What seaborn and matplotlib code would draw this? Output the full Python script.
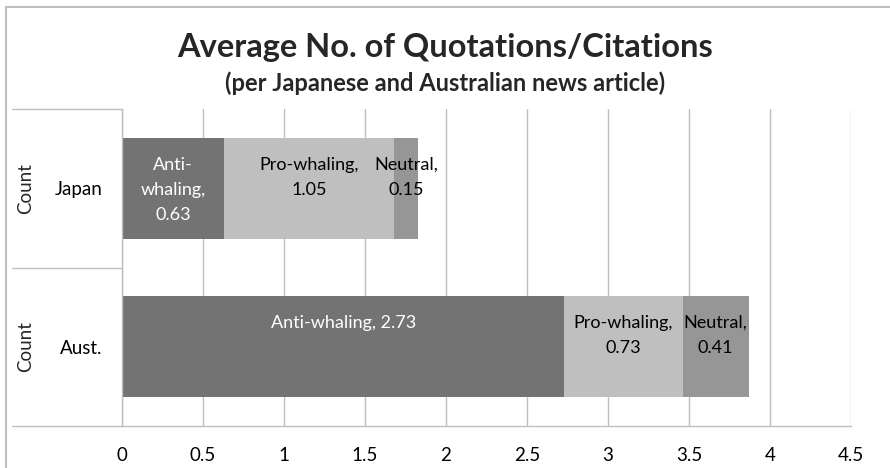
import pandas as pd
import seaborn as sns
import matplotlib.pyplot as plt
from matplotlib.lines import Line2D

# data
countries = ["Japan", "Aust."]
anti_whaling = [0.63, 2.73]
pro_whaling = [1.05, 0.73]
neutral = [0.15, 0.41]
segment_names = ["Anti-whaling", "Pro-whaling", "Neutral"]
segment_colors = ["#737373", "#BFBFBF", "#969696"]
label_colors = ["white", "black", "black"]

sns.set_theme(style="white")
plt.rcParams['font.family'] = ['Lato', 'DejaVu Sans']

df = pd.DataFrame({"country": countries, "Anti-whaling": anti_whaling,
                   "Pro-whaling": pro_whaling, "Neutral": neutral})
# cumulative totals so the bars can be layered into a stack
cum = df[segment_names].cumsum(axis=1)

fig = plt.figure(figsize=(8.9, 4.68), dpi=100)
ax = fig.add_axes([122 / 890, 42 / 468, 729 / 890, 317 / 468])

bar_w = 0.64
for name, col in reversed(list(zip(segment_names, segment_colors))):
    sns.barplot(x=cum[name], y=df["country"], order=countries, orient="y",
                color=col, width=bar_w, saturation=1, edgecolor="none", ax=ax)

# segment labels
px_per_unit = 317 / 2
for i, c in enumerate(countries):
    for j, name in enumerate(segment_names):
        val = df.loc[i, name]
        left = cum.loc[i, name] - val
        mid = left + val / 2
        if c == "Japan" and name == "Anti-whaling":
            txt = f"Anti-\nwhaling,\n{val:.2f}"
        elif c == "Aust." and name == "Anti-whaling":
            txt = f"{name}, {val:.2f}"
        else:
            txt = f"{name},\n{val:.2f}"
        ytop = i - bar_w / 2 + 19 / px_per_unit
        ax.text(mid, ytop, txt, ha="center", va="top", fontsize=13,
                color=label_colors[j], linespacing=1.7)

ax.set_xlim(0, 4.5)
ax.set_ylim(1.5, -0.5)
ax.set_xticks([0, 0.5, 1, 1.5, 2, 2.5, 3, 3.5, 4, 4.5])
ax.set_xticklabels(["0", "0.5", "1", "1.5", "2", "2.5", "3", "3.5", "4", "4.5"])
ax.xaxis.grid(True, color="#BFBFBF", linewidth=1)
ax.set_axisbelow(True)
ax.set_xlabel("")
ax.set_ylabel("")
ax.tick_params(axis="x", length=0, pad=15, labelsize=13.5, colors="black")
ax.tick_params(axis="y", length=0, pad=14, labelsize=13.5, colors="black")
for s in ["top", "right"]:
    ax.spines[s].set_visible(False)
for s in ["left", "bottom"]:
    ax.spines[s].set_color("#BFBFBF")
    ax.spines[s].set_linewidth(1)

# multi-level category axis: separators and outer "Count" labels
x0 = -110 / 729
for yb in [-0.5, 0.5, 1.5]:
    ax.plot([x0, 0], [yb, yb], color="#BFBFBF", linewidth=1, clip_on=False,
            transform=ax.get_yaxis_transform())
for i in range(len(countries)):
    ax.text(-96 / 729, i, "Count", rotation=90, ha="center", va="center",
            fontsize=13.5, transform=ax.get_yaxis_transform())

# titles
fig.text(0.5, 1 - 47 / 468, "Average No. of Quotations/Citations",
         ha="center", va="center", fontsize=23.5, fontweight="bold")
fig.text(0.5, 1 - 83 / 468, "(per Japanese and Australian news article)",
         ha="center", va="center", fontsize=17, fontweight="bold")

# chart border
fig.add_artist(Line2D([6 / 890, 1], [1 - 7 / 468] * 2, color="#BFBFBF", linewidth=1.5))
fig.add_artist(Line2D([6 / 890] * 2, [0, 1 - 7 / 468], color="#BFBFBF", linewidth=1.5))

fig.savefig("out.png", dpi=100)
